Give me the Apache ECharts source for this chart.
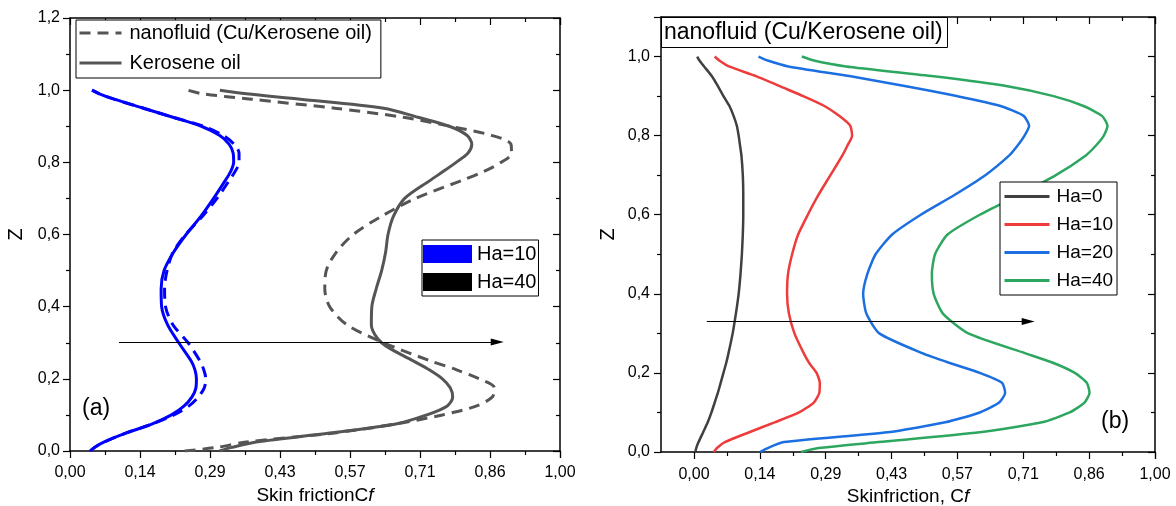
<!DOCTYPE html>
<html>
<head>
<meta charset="utf-8">
<title>Skin friction profiles</title>
<script src="https://cdn.jsdelivr.net/npm/echarts@6/dist/echarts.min.js"></script>
<style>
  html, body { margin: 0; padding: 0; background: #fff; }
  #chart { width: 1176px; height: 506px; }
</style>
</head>
<body>
<div id="chart"></div>
<script>
// z levels shared by every profile
const zLevels = [0, 0.01, 0.025, 0.05, 0.075, 0.1, 0.125, 0.15, 0.175, 0.2, 0.225, 0.25, 0.3, 0.35, 0.4, 0.45,
  0.5, 0.55, 0.6, 0.65, 0.7, 0.75, 0.775, 0.8, 0.825, 0.85, 0.875, 0.9, 0.925, 0.95, 0.975, 0.99, 1.0]

// (a) skin friction, Ha=10
const cfKeroHa10 = [0.041, 0.05, 0.07, 0.115, 0.168, 0.207, 0.233, 0.249, 0.257, 0.258, 0.255, 0.247, 0.222, 0.199, 0.187, 0.186,
  0.192, 0.211, 0.237, 0.267, 0.293, 0.317, 0.328, 0.334, 0.333, 0.325, 0.305, 0.268, 0.21, 0.15, 0.09, 0.06, 0.045]
const cfNanoHa10 = [0.041, 0.05, 0.07, 0.115, 0.168, 0.212, 0.243, 0.262, 0.274, 0.277, 0.273, 0.265, 0.241, 0.21, 0.195, 0.193,
  0.198, 0.21, 0.236, 0.27, 0.3, 0.325, 0.337, 0.345, 0.345, 0.335, 0.312, 0.272, 0.21, 0.15, 0.09, 0.06, 0.045]
// (a) skin friction, Ha=40
const cfKeroHa40 = [0.305, 0.33, 0.38, 0.53, 0.665, 0.728, 0.77, 0.781, 0.776, 0.76, 0.733, 0.7, 0.636, 0.615, 0.616, 0.625,
  0.636, 0.644, 0.649, 0.66, 0.683, 0.735, 0.762, 0.788, 0.812, 0.82, 0.81, 0.774, 0.71, 0.64, 0.47, 0.36, 0.306]
const cfNanoHa40 = [0.234, 0.3, 0.36, 0.54, 0.665, 0.76, 0.83, 0.862, 0.866, 0.835, 0.789, 0.735, 0.64, 0.565, 0.53, 0.52,
  0.523, 0.543, 0.578, 0.635, 0.705, 0.8, 0.845, 0.88, 0.901, 0.9, 0.86, 0.775, 0.68, 0.54, 0.37, 0.27, 0.24]

// (b) nanofluid, four Hartmann numbers
const cfHa0 = [0.003, 0.005, 0.01, 0.02, 0.03, 0.038, 0.045, 0.052, 0.058, 0.064, 0.07, 0.075, 0.084, 0.091, 0.097, 0.101,
  0.104, 0.106, 0.107, 0.107, 0.106, 0.103, 0.1, 0.097, 0.093, 0.086, 0.077, 0.064, 0.052, 0.039, 0.022, 0.012, 0.007]
const cfHa10 = [0.043, 0.05, 0.067, 0.12, 0.175, 0.228, 0.26, 0.272, 0.273, 0.266, 0.25, 0.238, 0.218, 0.206, 0.202, 0.204,
  0.213, 0.226, 0.247, 0.27, 0.296, 0.322, 0.333, 0.343, 0.339, 0.315, 0.283, 0.237, 0.186, 0.136, 0.076, 0.055, 0.045]
const cfHa20 = [0.143, 0.16, 0.195, 0.42, 0.545, 0.62, 0.662, 0.675, 0.668, 0.62, 0.555, 0.495, 0.402, 0.374, 0.367, 0.376,
  0.394, 0.43, 0.492, 0.565, 0.632, 0.684, 0.702, 0.717, 0.727, 0.715, 0.665, 0.57, 0.46, 0.34, 0.205, 0.16, 0.14]
const cfHa40 = [0.232, 0.27, 0.4, 0.62, 0.755, 0.815, 0.847, 0.858, 0.852, 0.826, 0.78, 0.718, 0.595, 0.54, 0.52, 0.516,
  0.523, 0.55, 0.62, 0.705, 0.785, 0.85, 0.872, 0.889, 0.897, 0.885, 0.845, 0.78, 0.68, 0.52, 0.33, 0.26, 0.234]

// arrows marking increasing Ha
const arrowA = [[0.1, 0.302], [0.872, 0.302]]
const arrowB = [[0.028, 0.33], [0.725, 0.33]]

// tick labels
const cfTickLabels = ['0,00', '0,14', '0,29', '0,43', '0,57', '0,71', '0,86', '1,00']
const zTickLabels = ['0,0', '0,2', '0,4', '0,6', '0,8', '1,0', '1,2']

const font = "'Liberation Sans', Arial, sans-serif"
const axisColor = '#000'

const prof = cf => zLevels.map((z, i) => [cf[i], z])
const cfLabel = v => {
  const i = Math.round(v * 7)
  return Math.abs(v * 7 - i) < 1e-6 && cfTickLabels[i] ? cfTickLabels[i] : ''
}
const zLabel = v => {
  const i = Math.round(v * 5)
  return Math.abs(v * 5 - i) < 1e-6 && zTickLabels[i] ? zTickLabels[i] : ''
}

function profLine(name, cf, color, dash, axis, smooth, width) {
  return {
    name: name,
    type: 'line',
    xAxisIndex: axis,
    yAxisIndex: axis,
    data: prof(cf),
    symbol: 'none',
    smooth: smooth,
    z: 3,
    itemStyle: { color: color },
    lineStyle: { color: color, width: width, type: dash ? [11, 7] : 'solid' }
  }
}

function arrowMark(pts) {
  return {
    silent: true,
    symbol: ['none', 'triangle'],
    symbolSize: [7, 13],
    label: { show: false },
    lineStyle: { color: '#000', width: 1, type: 'solid' },
    data: [[{ coord: pts[0] }, { coord: pts[1] }]]
  }
}

// one axis, most settings shared
function axis(grid, pos, min, max, interval, opts) {
  const a = {
    gridIndex: grid,
    position: pos,
    type: 'value',
    min: min,
    max: max,
    interval: interval,
    splitLine: { show: false },
    axisLine: { show: true, onZero: false, lineStyle: { color: axisColor, width: 1.5 } },
    axisTick: { show: true, length: 7, lineStyle: { color: axisColor, width: 1.2 } },
    minorTick: { show: true, splitNumber: 2, length: 4, lineStyle: { color: axisColor, width: 1.2 } },
    axisLabel: { show: false, color: '#000', fontSize: 16, fontFamily: font }
  }
  return Object.assign(a, opts || {})
}

const cfName = txt => ({
  name: '{t|' + txt + '}{i|f}', nameLocation: 'middle',
  nameTextStyle: {
    rich: {
      t: { fontSize: 19, color: '#000', fontFamily: font },
      i: { fontSize: 19, color: '#000', fontStyle: 'italic', fontFamily: font }
    }
  }
})

const option = {
  animation: false,
  backgroundColor: '#fff',
  textStyle: { fontFamily: font },
  title: [
    {
      text: 'nanofluid (Cu/Kerosene oil)', left: 661, top: 17, padding: [4, 5, 4, 3],
      borderColor: '#000', borderWidth: 1, backgroundColor: '#fff',
      textStyle: { fontSize: 23, fontWeight: 'normal', color: '#000', fontFamily: font }
    },
    { text: '(a)', left: 82, top: 397, padding: 0, textStyle: { fontSize: 23, fontWeight: 'normal', color: '#000', fontFamily: font } },
    { text: '(b)', left: 1101, top: 410, padding: 0, textStyle: { fontSize: 23, fontWeight: 'normal', color: '#000', fontFamily: font } }
  ],
  legend: [
    {
      data: ['nanofluid (Cu/Kerosene oil)', 'Kerosene oil'],
      orient: 'vertical', left: 76, top: 20, padding: [3, 9, 5, 2], itemGap: 10,
      itemWidth: 42, itemHeight: 14, borderColor: '#000', borderWidth: 1, backgroundColor: '#fff',
      itemStyle: { opacity: 0 }, lineStyle: { width: 3 },
      textStyle: { fontSize: 20, color: '#000', fontFamily: font, padding: [0, 0, 0, 3] }
    },
    {
      data: ['Ha=10 (a)', 'Ha=40 (a)'], formatter: n => n.replace(' (a)', ''),
      orient: 'vertical', left: 422, top: 240, padding: [4, 2, 4, 1], itemGap: 8, icon: 'rect',
      itemWidth: 49, itemHeight: 18, borderColor: '#000', borderWidth: 1, backgroundColor: '#fff',
      textStyle: { fontSize: 20, color: '#000', fontFamily: font }
    },
    {
      data: ['Ha=0', 'Ha=10', 'Ha=20', 'Ha=40'],
      orient: 'vertical', left: 1000, top: 182, padding: [5, 4, 5, 3], itemGap: 9,
      itemWidth: 45, itemHeight: 14, borderColor: '#000', borderWidth: 1, backgroundColor: '#fff',
      itemStyle: { opacity: 0 }, lineStyle: { width: 3 },
      textStyle: { fontSize: 19, color: '#000', fontFamily: font, padding: [0, 0, 0, 2] }
    }
  ],
  grid: [
    { left: 70, top: 18, width: 490, height: 433, outerBoundsMode: 'none' },
    { left: 661, top: 17, width: 494, height: 435, outerBoundsMode: 'none' },
    { left: 694, top: 17, width: 461, height: 435, outerBoundsMode: 'none' }
  ],
  xAxis: [
    axis(0, 'bottom', 0, 1, 1 / 7, Object.assign({
      axisLabel: { show: true, formatter: cfLabel, margin: 14, color: '#000', fontSize: 16, fontFamily: font },
      nameGap: 33
    }, cfName('Skin frictionC'))),
    axis(0, 'top', 0, 1, 1 / 7, {
      axisTick: { show: true, inside: true, length: 7, lineStyle: { color: axisColor, width: 1.2 } }
    }),
    axis(1, 'bottom', -1 / 14, 1, 1 / 14, Object.assign({
      axisTick: { show: false }, minorTick: { show: false }, nameGap: 35
    }, cfName('Skinfriction, C'))),
    axis(1, 'top', -1 / 14, 1, 1 / 14, { axisTick: { show: false }, minorTick: { show: false } }),
    axis(2, 'bottom', 0, 1, 1 / 7, {
      axisLine: { show: false },
      axisLabel: { show: true, formatter: cfLabel, margin: 15, color: '#000', fontSize: 16, fontFamily: font }
    }),
    axis(2, 'top', 0, 1, 1 / 7, {
      axisLine: { show: false },
      axisTick: { show: true, inside: true, length: 7, lineStyle: { color: axisColor, width: 1.2 } }
    })
  ],
  yAxis: [
    axis(0, 'left', 0, 1.2, 0.2, {
      axisLabel: { show: true, formatter: zLabel, margin: 10, color: '#000', fontSize: 16, fontFamily: font },
      name: 'Z', nameLocation: 'middle', nameGap: 44, nameTextStyle: { fontSize: 20, color: '#000', fontFamily: font }
    }),
    axis(0, 'right', 0, 1.2, 0.2, {
      axisTick: { show: true, inside: true, length: 7, lineStyle: { color: axisColor, width: 1.2 } }
    }),
    axis(1, 'left', 0, 1.1, 0.2, {
      axisLabel: { show: true, formatter: zLabel, margin: 11, color: '#000', fontSize: 16, fontFamily: font },
      name: 'Z', nameLocation: 'middle', nameGap: 43, nameTextStyle: { fontSize: 20, color: '#000', fontFamily: font }
    }),
    axis(1, 'right', 0, 1.1, 0.2, {
      axisTick: { show: true, inside: true, length: 7, lineStyle: { color: axisColor, width: 1.2 } }
    }),
    { gridIndex: 2, type: 'value', min: 0, max: 1.1, show: false }
  ],
  series: [
    // (a)
    profLine('nanofluid (Cu/Kerosene oil)', cfNanoHa40, '#555555', true, 0, 0.3, 3),
    profLine('Kerosene oil', cfKeroHa40, '#555555', false, 0, 0.3, 3),
    profLine('nano Ha=10', cfNanoHa10, '#0000ff', true, 0, 0.3, 3),
    Object.assign(profLine('kero Ha=10', cfKeroHa10, '#0000ff', false, 0, 0.3, 3), { markLine: arrowMark(arrowA) }),
    // legend swatches only
    { name: 'Ha=10 (a)', type: 'line', xAxisIndex: 0, yAxisIndex: 0, data: [], itemStyle: { color: '#0000ff' } },
    { name: 'Ha=40 (a)', type: 'line', xAxisIndex: 0, yAxisIndex: 0, data: [], itemStyle: { color: '#000000' } },
    // (b)
    Object.assign(profLine('Ha=0', cfHa0, '#404040', false, 2, 0.2, 2.5), { xAxisIndex: 2, yAxisIndex: 2, markLine: arrowMark(arrowB) }),
    Object.assign(profLine('Ha=10', cfHa10, '#ee3b3b', false, 2, 0.2, 2.5), { xAxisIndex: 2, yAxisIndex: 2 }),
    Object.assign(profLine('Ha=20', cfHa20, '#1c6fe0', false, 2, 0.2, 2.5), { xAxisIndex: 2, yAxisIndex: 2 }),
    Object.assign(profLine('Ha=40', cfHa40, '#2da760', false, 2, 0.2, 2.5), { xAxisIndex: 2, yAxisIndex: 2 })
  ]
}

const chart = echarts.init(document.getElementById('chart'))
chart.setOption(option)
</script>
</body>
</html>
